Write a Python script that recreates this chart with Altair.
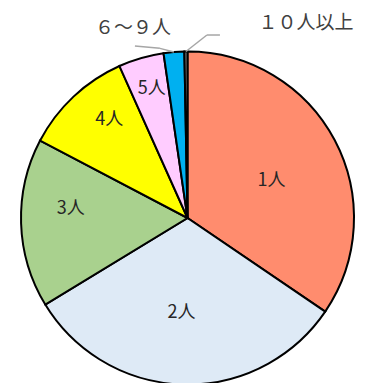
import altair as alt
import pandas as pd

# data
categories = ["1人", "2人", "3人", "4人", "5人", "６～９人", "１０人以上"]
shares = [34.5, 31.8, 16.4, 10.6, 4.4, 2.0, 0.3]
colors = ["#FF8C6E", "#DEEAF6", "#A9D18E", "#FFFF00", "#FFCCFF", "#00B0F0", "#7F7F7F"]
inner_labels = categories[:5]

df = pd.DataFrame({"category": categories, "share": shares, "idx": list(range(len(categories)))})

# layout / style
W, H = 352, 378
CX, CY = 179.5, 210
R = 166.5
FONT = "Noto Sans CJK JP"
TXT = "#404040"
LEAD = "#A6A6A6"
# small angular nudges (radians) of the inner labels, as placed in the reference
label_nudge = {"1人": 0.075, "2人": 0.037, "3人": 0.11, "4人": 0.079, "5人": 0.012}
nudge_expr = "{" + ", ".join(f"'{k}': {v}" for k, v in label_nudge.items()) + "}"

color_scale = alt.Scale(domain=categories, range=colors)

pie = alt.Chart(df).mark_arc(outerRadius=R, stroke="black", strokeWidth=2).encode(
    theta=alt.Theta("share:Q", stack=True),
    order=alt.Order("idx:Q"),
    color=alt.Color("category:N", scale=color_scale, legend=None),
    x=alt.value(CX),
    y=alt.value(CY),
)

# geometry of each slice derived from the data
geo = alt.Chart(df).transform_joinaggregate(
    total="sum(share)"
).transform_window(
    cum="sum(share)", sort=[alt.SortField("idx")], frame=[None, 0]
).transform_calculate(
    mid="(datum.cum - datum.share / 2) / datum.total * 2 * PI",
    f="datum.share / datum.total",
).transform_calculate(
    ex=f"{CX} + {R} * sin(datum.mid)",
    ey=f"{CY} - {R} * cos(datum.mid)",
    lr="140 - 140 * datum.f",
)

inner = geo.transform_filter(
    alt.FieldOneOfPredicate(field="category", oneOf=inner_labels)
).transform_calculate(
    nud=f"{nudge_expr}[datum.category]"
).transform_calculate(
    lx=f"{CX} + datum.lr * sin(datum.mid + datum.nud)",
    ly=f"{CY} - datum.lr * cos(datum.mid + datum.nud)",
).mark_text(font=FONT, fontSize=18, color="#262626", baseline="middle").encode(
    x=alt.X("lx:Q", scale=None),
    y=alt.Y("ly:Q", scale=None),
    text="category:N",
)

# outer labels with leader lines (offsets relative to the slice edge point)
outer_layout = {
    "６～９人": {"elbow": (-14, -3.7), "end": (-39, -6), "text": (-41, -24.5)},
    "１０人以上": {"elbow": (21, -16.5), "end": (34, -16.5), "text": (120, -29)},
}

outer_layers = []
for cat, lay in outer_layout.items():
    g = geo.transform_filter(alt.datum.category == cat).transform_calculate(
        bx=f"datum.ex + {lay['elbow'][0]}",
        by=f"datum.ey + {lay['elbow'][1]}",
        fx=f"datum.ex + {lay['end'][0]}",
        fy=f"datum.ey + {lay['end'][1]}",
        tx=f"datum.ex + {lay['text'][0]}",
        ty=f"datum.ey + {lay['text'][1]}",
    )
    seg1 = g.mark_rule(color=LEAD, strokeWidth=1.5).encode(
        x=alt.X("ex:Q", scale=None), y=alt.Y("ey:Q", scale=None),
        x2="bx:Q", y2="by:Q",
    )
    seg2 = g.mark_rule(color=LEAD, strokeWidth=1.5).encode(
        x=alt.X("bx:Q", scale=None), y=alt.Y("by:Q", scale=None),
        x2="fx:Q", y2="fy:Q",
    )
    txt = g.mark_text(font=FONT, fontSize=19, color=TXT, baseline="middle").encode(
        x=alt.X("tx:Q", scale=None), y=alt.Y("ty:Q", scale=None),
        text="category:N",
    )
    outer_layers += [seg1, seg2, txt]

chart = alt.layer(pie, inner, *outer_layers).properties(
    width=W, height=H, padding=0, autosize=alt.AutoSizeParams(type="none")
).configure_view(stroke=None)

chart.save("out.html", embed_options={"renderer": "svg", "actions": False})
